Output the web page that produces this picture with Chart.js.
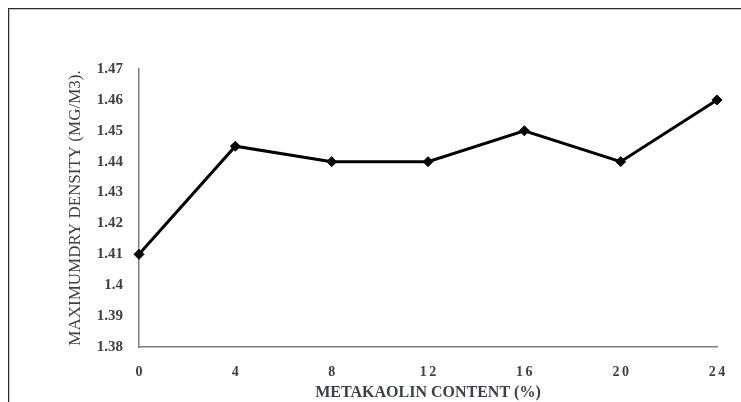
<!DOCTYPE html>
<html>
<head>
<meta charset="utf-8">
<script src="https://cdn.jsdelivr.net/npm/chart.js@4/dist/chart.umd.min.js"></script>
<style>
  html, body { margin: 0; padding: 0; background: #fff; overflow: hidden; }
  #wrap { position: absolute; left: 0; top: 0; width: 741px; height: 402px; }
  #frame { position: absolute; left: 8px; top: 8px; width: 800px; height: 500px;
           border-left: 1px solid #2a2a2a; border-top: 1px solid #2a2a2a;
           box-shadow: inset 1px 1px 0 #c8c8c8; pointer-events: none; }
  canvas { position: absolute; left: 0; top: 0; }
</style>
</head>
<body>
<div id="wrap">
  <canvas id="c" width="741" height="402"></canvas>
  <div id="frame"></div>
</div>
<script>
const categories = ['0', '4', '8', '12', '16', '20', '24'];
const densityValues = [1.41, 1.445, 1.44, 1.44, 1.45, 1.44, 1.46];
const yMin = 1.38;
const yMax = 1.47;
const yStep = 0.01;
const xTitle = 'METAKAOLIN CONTENT (%)';
const yTitle = 'MAXIMUMDRY DENSITY (MG/M3).';

const textColor = '#3d4048';
const axisColor = '#7f7f7f';
const serif = '"Liberation Serif", "Times New Roman", serif';

new Chart(document.getElementById('c'), {
  type: 'line',
  data: {
    labels: categories,
    datasets: [{
      data: densityValues,
      borderColor: '#000',
      backgroundColor: '#000',
      borderWidth: 3,
      pointStyle: 'rectRot',
      pointRadius: 5,
      pointBorderWidth: 1,
      pointBorderColor: '#000',
      pointBackgroundColor: '#000',
      tension: 0,
      fill: false,
      clip: false
    }]
  },
  options: {
    responsive: false,
    animation: false,
    devicePixelRatio: 1,
    layout: { padding: { top: 69, right: 19, left: 0, bottom: 0 } },
    plugins: { legend: { display: false }, tooltip: { enabled: false } },
    scales: {
      x: {
        offset: false,
        grid: { display: false, drawTicks: false },
        border: { display: true, color: axisColor, width: 1.5 },
        ticks: {
          color: textColor,
          font: { family: serif, size: 14, weight: 'bold' },
          padding: 17,
          maxRotation: 0,
          autoSkip: false
        },
        title: {
          display: true,
          text: xTitle,
          color: textColor,
          font: { family: serif, size: 16, weight: 'bold' },
          padding: { top: 0, bottom: 0 }
        },
        afterFit: (s) => { s.height = 55; },
        afterUpdate: (s) => {
          if (s._lsPatched) return;
          s._lsPatched = true;
          const orig = s.drawLabels;
          s.drawLabels = function (area) {
            const ctx = this.ctx;
            ctx.save();
            ctx.letterSpacing = '2.5px';
            ctx.translate(1.25, 0);
            orig.call(this, area);
            ctx.restore();
          };
        }
      },
      y: {
        min: yMin,
        max: yMax,
        grid: { display: false, drawTicks: false },
        border: { display: true, color: axisColor, width: 1.5 },
        ticks: {
          stepSize: yStep,
          color: textColor,
          font: { family: serif, size: 15, weight: 'bold' },
          padding: 16,
          callback: (v) => Number(Number(v).toFixed(2)).toString()
        },
        title: {
          display: true,
          text: yTitle,
          color: textColor,
          font: { family: serif, size: 17, weight: 'normal' },
          padding: { top: 65, bottom: 0 }
        },
        afterFit: (s) => { s.width = 139; }
      }
    }
  }
});
</script>
</body>
</html>
